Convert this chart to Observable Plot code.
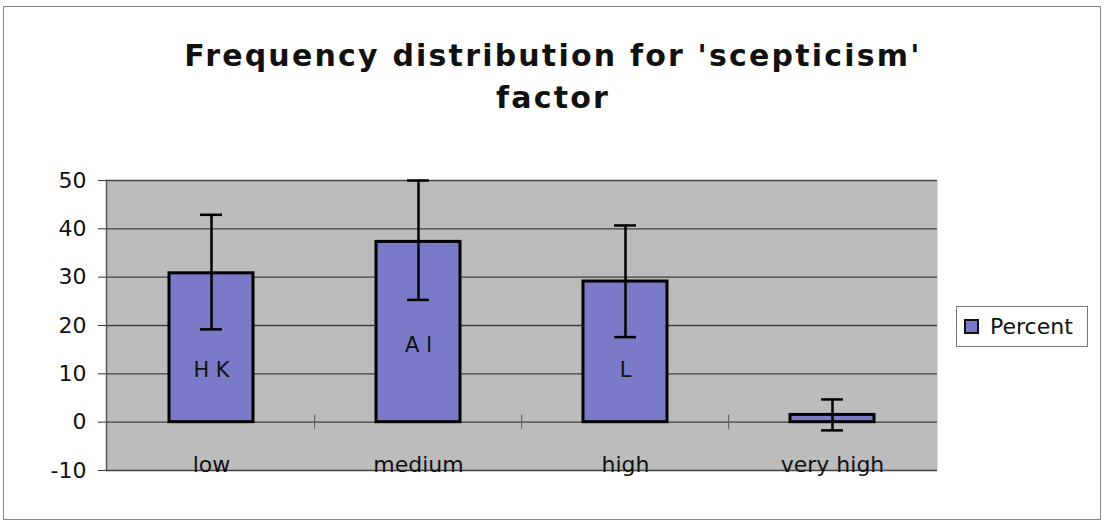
<!DOCTYPE html>
<html>
<head>
<meta charset="utf-8">
<script src="https://cdn.jsdelivr.net/npm/d3@7"></script>
<script src="https://cdn.jsdelivr.net/npm/@observablehq/plot@0.6"></script>
<style>
  html, body { margin: 0; padding: 0; background: #fff; }
  #wrap { position: relative; width: 1106px; height: 526px; overflow: hidden; background: #fff; font-family: "DejaVu Sans", sans-serif; }
  #border { position: absolute; left: 3px; top: 6px; width: 1098px; height: 514px; border: 1px solid #8a8a8a; box-sizing: border-box; }
  #title { position: absolute; left: 0; top: 35px; width: 1106px; text-align: center; font-size: 30px; font-weight: bold; line-height: 42px; letter-spacing: 2.2px; color: #111; }
  #chart { position: absolute; left: 0; top: 130px; }
  #legend { position: absolute; left: 956px; top: 306px; width: 132px; height: 41px; border: 1px solid #777; box-sizing: border-box; background: #fff; display: flex; align-items: center; font-size: 22px; color: #111; }
  #legend .sw { width: 11px; height: 11px; border: 2px solid #111; margin-left: 7px; margin-right: 11px; }
</style>
</head>
<body>
<div id="wrap">
  <div id="border"></div>
  <div id="title">Frequency distribution for 'scepticism'<br>factor</div>
  <div id="chart"></div>
  <div id="legend"><div class="sw" id="sw"></div><span id="legtext"></span></div>
</div>
<script>
const categories = ["low", "medium", "high", "very high"];
const percent = [30.8, 37.3, 29.1, 1.5];
const errLow = [19.2, 25.3, 17.6, -1.7];
const errHigh = [42.9, 50.0, 40.7, 4.7];
const barLabels = ["H K", "A I", "L", ""];
const barLabelY = [10.7, 15.9, 10.7, 0];
const yTicks = [-10, 0, 10, 20, 30, 40, 50];
const seriesName = "Percent";

const barColor = "#7a7ac8";
const rows = categories.map((c, i) => ({
  cat: c, value: percent[i], lo: errLow[i], hi: errHigh[i], label: barLabels[i], ly: barLabelY[i]
}));

document.getElementById("sw").style.background = barColor;
document.getElementById("legtext").textContent = seriesName;

const W = 1106, mL = 106, mR = 169;
const step = (W - mL - mR) / categories.length;
const pad = 0.595;
const bw = step * (1 - pad);

const plot = Plot.plot({
  width: W,
  height: 396,
  marginTop: 50,
  marginBottom: 56,
  marginLeft: mL,
  marginRight: mR,
  style: { fontFamily: "DejaVu Sans, sans-serif", fontSize: "22px", color: "#111", background: "transparent", overflow: "visible" },
  x: { domain: categories, paddingInner: pad, paddingOuter: pad / 2, axis: null },
  y: { domain: [-10, 50], ticks: yTicks, label: null },
  marks: [
    Plot.frame({ fill: "#bcbcbc", stroke: null }),
    Plot.gridY(yTicks, { stroke: "#2a2a2a", strokeOpacity: 0.85, strokeWidth: 1.3 }),
    Plot.axisY(yTicks, { tickSize: 8, tickPadding: 12, tickFormat: d => String(d), fontSize: 22, stroke: "#333", letterSpacing: 1.5 }),
    Plot.frame({ anchor: "left", stroke: "#555", strokeWidth: 1.5 }),
    Plot.ruleX(categories.slice(1), { x: d => d, y1: 0, y2: 0, insetTop: -7, insetBottom: -7, dx: -step / 2, stroke: "#666", strokeWidth: 1.2 }),
    Plot.barY(rows, { x: "cat", y: "value", fill: barColor, stroke: "#000", strokeWidth: 3 }),
    Plot.ruleX(rows, { x: "cat", y1: "lo", y2: "hi", stroke: "#000", strokeWidth: 2.5 }),
    Plot.tickY(rows, { x: "cat", y: "lo", stroke: "#000", strokeWidth: 2.5, insetLeft: (bw - 22) / 2, insetRight: (bw - 22) / 2 }),
    Plot.tickY(rows, { x: "cat", y: "hi", stroke: "#000", strokeWidth: 2.5, insetLeft: (bw - 22) / 2, insetRight: (bw - 22) / 2 }),
    Plot.text(rows.filter(d => d.label), { x: "cat", y: "ly", text: "label", fontSize: 21, fill: "#111", letterSpacing: 1 }),
    Plot.text(rows, { x: "cat", y: () => -10, text: "cat", lineAnchor: "bottom", dy: 1, fontSize: 22, fill: "#111" })
  ]
});
document.getElementById("chart").appendChild(plot);
</script>
</body>
</html>
